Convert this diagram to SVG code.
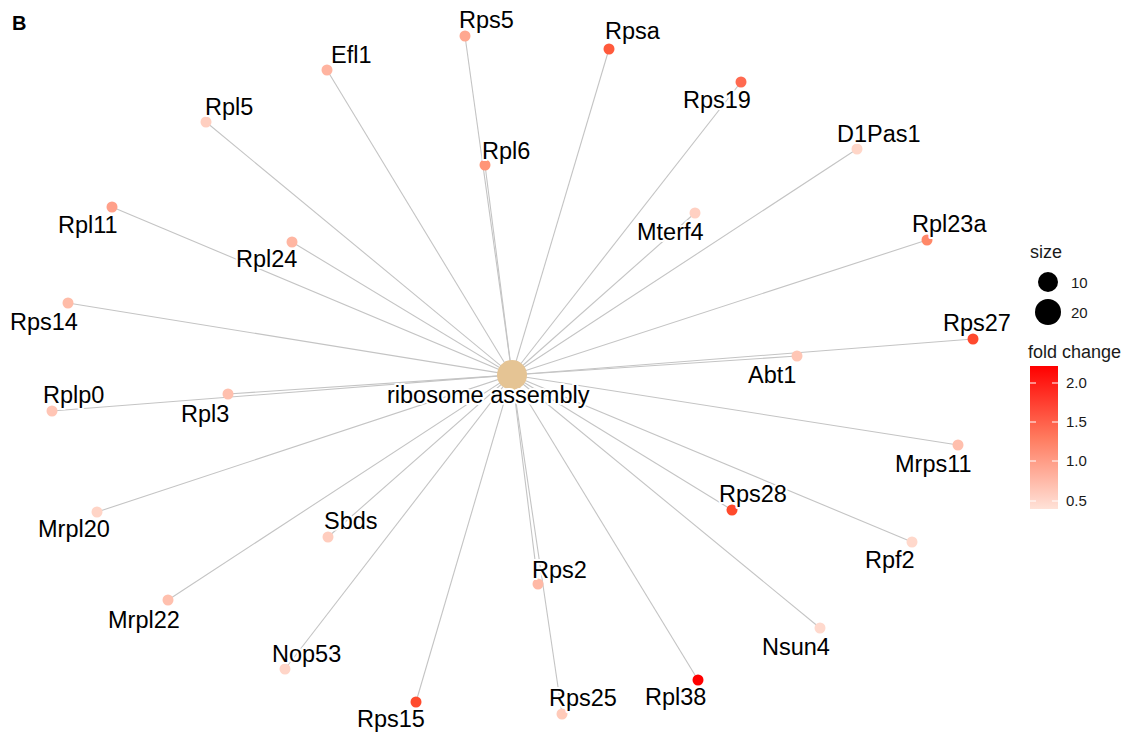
<svg xmlns="http://www.w3.org/2000/svg" width="1128" height="736" viewBox="0 0 1128 736">
<defs>
<style>
.e{stroke:#c4c4c4;stroke-width:1.1;fill:none}
.lb{font-family:"Liberation Sans",Arial,sans-serif;font-size:23.5px;fill:#000;stroke:#fff;stroke-width:4;stroke-linejoin:round;paint-order:stroke}
.lg{font-family:"Liberation Sans",Arial,sans-serif;fill:#1a1a1a}
</style>
<linearGradient id="fc" x1="0" y1="0" x2="0" y2="1">
<stop offset="0" stop-color="#ff0000"/>
<stop offset="0.5" stop-color="#ff7a5e"/>
<stop offset="1" stop-color="#ffe2d8"/>
</linearGradient>
</defs>
<rect width="1128" height="736" fill="#fff"/>
<text x="12" y="30" font-family="Liberation Sans,Arial,sans-serif" font-size="20" font-weight="bold">B</text>
<g id="connectors">
<line class="e" x1="512" y1="375" x2="465" y2="36"/>
<line class="e" x1="512" y1="375" x2="609" y2="49"/>
<line class="e" x1="512" y1="375" x2="327" y2="70"/>
<line class="e" x1="512" y1="375" x2="741" y2="82"/>
<line class="e" x1="512" y1="375" x2="206" y2="122"/>
<line class="e" x1="512" y1="375" x2="857" y2="149"/>
<line class="e" x1="512" y1="375" x2="485" y2="165"/>
<line class="e" x1="512" y1="375" x2="112" y2="207"/>
<line class="e" x1="512" y1="375" x2="695" y2="213"/>
<line class="e" x1="512" y1="375" x2="927" y2="240"/>
<line class="e" x1="512" y1="375" x2="292" y2="242"/>
<line class="e" x1="512" y1="375" x2="68" y2="303"/>
<line class="e" x1="512" y1="375" x2="973" y2="339"/>
<line class="e" x1="512" y1="375" x2="797" y2="356"/>
<line class="e" x1="512" y1="375" x2="52" y2="411"/>
<line class="e" x1="512" y1="375" x2="228" y2="394"/>
<line class="e" x1="512" y1="375" x2="958" y2="445"/>
<line class="e" x1="512" y1="375" x2="97" y2="512"/>
<line class="e" x1="512" y1="375" x2="732" y2="510"/>
<line class="e" x1="512" y1="375" x2="328" y2="537"/>
<line class="e" x1="512" y1="375" x2="912" y2="542"/>
<line class="e" x1="512" y1="375" x2="538" y2="584"/>
<line class="e" x1="512" y1="375" x2="168" y2="600"/>
<line class="e" x1="512" y1="375" x2="820" y2="628"/>
<line class="e" x1="512" y1="375" x2="285" y2="669"/>
<line class="e" x1="512" y1="375" x2="698" y2="680"/>
<line class="e" x1="512" y1="375" x2="562" y2="714"/>
<line class="e" x1="512" y1="375" x2="416" y2="702"/>
</g>
<g id="n-Rps5"><circle cx="465" cy="36" r="5.5" fill="#ffa890"/></g>
<g id="n-Rpsa"><circle cx="609" cy="49" r="5.5" fill="#ff5a3c"/></g>
<g id="n-Efl1"><circle cx="327" cy="70" r="5.5" fill="#ffb4a0"/></g>
<g id="n-Rps19"><circle cx="741" cy="82" r="5.5" fill="#ff6a50"/></g>
<g id="n-Rpl5"><circle cx="206" cy="122" r="5.5" fill="#ffcfc0"/></g>
<g id="n-D1Pas1"><circle cx="857" cy="149" r="5.5" fill="#ffd6c8"/></g>
<g id="n-Rpl6"><circle cx="485" cy="165" r="5.5" fill="#ff9577"/></g>
<g id="n-Rpl11"><circle cx="112" cy="207" r="5.5" fill="#ffa08a"/></g>
<g id="n-Mterf4"><circle cx="695" cy="213" r="5.5" fill="#ffd0c2"/></g>
<g id="n-Rpl23a"><circle cx="927" cy="240" r="5.5" fill="#ff8868"/></g>
<g id="n-Rpl24"><circle cx="292" cy="242" r="5.5" fill="#ffb6a2"/></g>
<g id="n-Rps14"><circle cx="68" cy="303" r="5.5" fill="#ffbca8"/></g>
<g id="n-Rps27"><circle cx="973" cy="339" r="5.5" fill="#ff4a2e"/></g>
<g id="n-Abt1"><circle cx="797" cy="356" r="5.5" fill="#ffc6b5"/></g>
<g id="n-Rplp0"><circle cx="52" cy="411" r="5.5" fill="#ffc5b5"/></g>
<g id="n-Rpl3"><circle cx="228" cy="394" r="5.5" fill="#ffc0ae"/></g>
<g id="n-Mrps11"><circle cx="958" cy="445" r="5.5" fill="#ffbfad"/></g>
<g id="n-Mrpl20"><circle cx="97" cy="512" r="5.5" fill="#ffd4c6"/></g>
<g id="n-Rps28"><circle cx="732" cy="510" r="5.5" fill="#ff4a2c"/></g>
<g id="n-Sbds"><circle cx="328" cy="537" r="5.5" fill="#ffcdbe"/></g>
<g id="n-Rpf2"><circle cx="912" cy="542" r="5.5" fill="#ffd8cb"/></g>
<g id="n-Rps2"><circle cx="538" cy="584" r="5.5" fill="#ffb9a6"/></g>
<g id="n-Mrpl22"><circle cx="168" cy="600" r="5.5" fill="#ffc0ae"/></g>
<g id="n-Nsun4"><circle cx="820" cy="628" r="5.5" fill="#ffd9cd"/></g>
<g id="n-Nop53"><circle cx="285" cy="669" r="5.5" fill="#ffd5c8"/></g>
<g id="n-Rpl38"><circle cx="698" cy="680" r="5.5" fill="#ff0000"/></g>
<g id="n-Rps25"><circle cx="562" cy="714" r="5.5" fill="#ffcab9"/></g>
<g id="n-Rps15"><circle cx="416" cy="702" r="5.5" fill="#ff4b2d"/></g>
<g id="n-ribosome-assembly"><circle cx="512" cy="375" r="15" fill="#e5c494"/></g>
<g id="labels">
<text class="lb" x="459" y="28">Rps5</text>
<text class="lb" x="605" y="39">Rpsa</text>
<text class="lb" x="331" y="63">Efl1</text>
<text class="lb" x="683" y="108">Rps19</text>
<text class="lb" x="205" y="115">Rpl5</text>
<text class="lb" x="837" y="142">D1Pas1</text>
<text class="lb" x="482" y="159">Rpl6</text>
<text class="lb" x="58" y="233">Rpl11</text>
<text class="lb" x="637" y="240">Mterf4</text>
<text class="lb" x="912" y="232">Rpl23a</text>
<text class="lb" x="236" y="267">Rpl24</text>
<text class="lb" x="10" y="330">Rps14</text>
<text class="lb" x="943" y="331">Rps27</text>
<text class="lb" x="748" y="383">Abt1</text>
<text class="lb" x="43" y="403">Rplp0</text>
<text class="lb" x="181" y="422">Rpl3</text>
<text class="lb" x="895" y="472">Mrps11</text>
<text class="lb" x="38" y="537">Mrpl20</text>
<text class="lb" x="719" y="502">Rps28</text>
<text class="lb" x="324" y="529">Sbds</text>
<text class="lb" x="865" y="568">Rpf2</text>
<text class="lb" x="532" y="578">Rps2</text>
<text class="lb" x="108" y="628">Mrpl22</text>
<text class="lb" x="762" y="655">Nsun4</text>
<text class="lb" x="272" y="662">Nop53</text>
<text class="lb" x="645" y="705">Rpl38</text>
<text class="lb" x="549" y="706">Rps25</text>
<text class="lb" x="357" y="727">Rps15</text>
<text class="lb" x="387" y="403">ribosome assembly</text>
</g>
<g id="legend">
<text class="lg" x="1030" y="258" font-size="18">size</text>
<circle cx="1048" cy="282" r="10" fill="#000"/>
<circle cx="1048" cy="312" r="13" fill="#000"/>
<text class="lg" x="1071" y="288" font-size="15">10</text>
<text class="lg" x="1071" y="318" font-size="15">20</text>
<text class="lg" x="1028" y="358" font-size="18">fold change</text>
<rect x="1030" y="366" width="28" height="143" fill="url(#fc)"/>
<g stroke="#fff" stroke-width="1">
<line x1="1030" y1="383" x2="1036" y2="383"/><line x1="1052" y1="383" x2="1058" y2="383"/>
<line x1="1030" y1="422" x2="1036" y2="422"/><line x1="1052" y1="422" x2="1058" y2="422"/>
<line x1="1030" y1="461" x2="1036" y2="461"/><line x1="1052" y1="461" x2="1058" y2="461"/>
<line x1="1030" y1="501" x2="1036" y2="501"/><line x1="1052" y1="501" x2="1058" y2="501"/>
</g>
<text class="lg" x="1066" y="388" font-size="15">2.0</text>
<text class="lg" x="1066" y="427" font-size="15">1.5</text>
<text class="lg" x="1066" y="466" font-size="15">1.0</text>
<text class="lg" x="1066" y="506" font-size="15">0.5</text>
</g>
</svg>
